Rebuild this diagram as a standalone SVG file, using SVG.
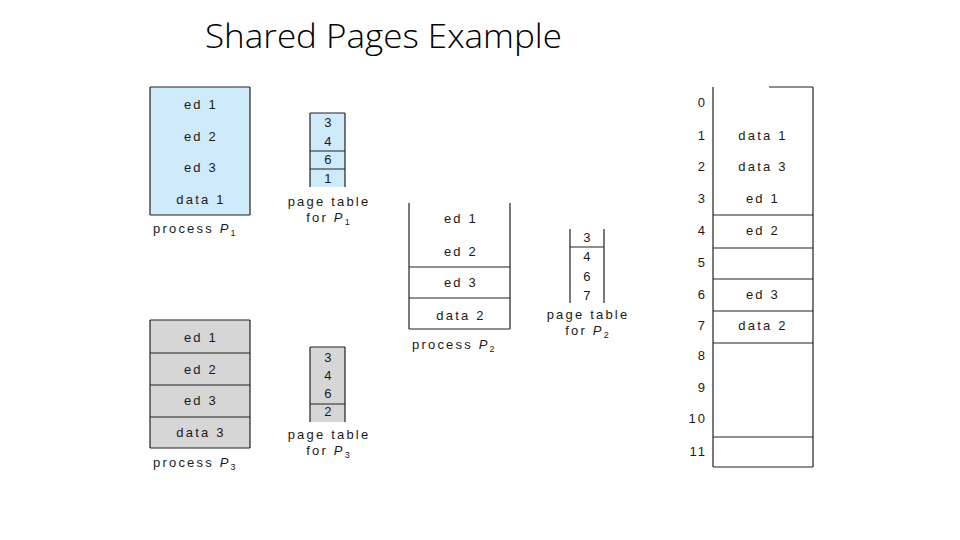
<svg xmlns="http://www.w3.org/2000/svg" width="960" height="540" viewBox="0 0 960 540">
<style>
.t{font-family:"Liberation Sans",Arial,sans-serif;font-size:13px;letter-spacing:2.2px;fill:#1a1a1a;text-anchor:middle}
.l{font-family:"Liberation Sans",Arial,sans-serif;font-size:13px;letter-spacing:2.2px;fill:#1a1a1a}
.n{font-family:"Liberation Sans",Arial,sans-serif;font-size:13px;letter-spacing:2px;fill:#1a1a1a;text-anchor:end}
.ln{stroke:#222;stroke-width:1.2;fill:none}
.blue{fill:#cfeafa}
.gray{fill:#d6d6d6}
.it{font-style:italic}
.sub{font-size:9px}
</style>
<rect width="960" height="540" fill="#fff"/>
<text x="205" y="48" font-family="'Open Sans','Liberation Sans',sans-serif" font-size="33" font-weight="300" fill="#000" textLength="357" lengthAdjust="spacingAndGlyphs">Shared Pages Example</text>

<g id="process-p1">
<rect class="blue" x="150" y="87" width="100" height="128"/>
<path class="ln" d="M150 87V215M250 87V215M150 87H250M150 215H250"/>
<text class="t" x="201" y="109">ed 1</text>
<text class="t" x="201" y="141">ed 2</text>
<text class="t" x="201" y="172">ed 3</text>
<text class="t" x="201" y="204">data 1</text>
<text class="l" x="153" y="233">process <tspan class="it">P</tspan><tspan class="sub" dy="3">1</tspan></text>
</g>

<g id="pagetable-p1">
<rect class="blue" x="310" y="113" width="35" height="74"/>
<path class="ln" d="M310 113V187M345 113V187M310 113H345M310 151H345M310 169H345"/>
<text class="t" x="329" y="127">3</text>
<text class="t" x="329" y="146">4</text>
<text class="t" x="329" y="164">6</text>
<text class="t" x="329" y="183">1</text>
<text class="t" x="329" y="206">page table</text>
<text class="t" x="329" y="222">for <tspan class="it">P</tspan><tspan class="sub" dy="3">1</tspan></text>
</g>

<g id="process-p3">
<rect class="gray" x="150" y="320" width="100" height="128"/>
<path class="ln" d="M150 320V448M250 320V448M150 320H250M150 353H250M150 385H250M150 417H250M150 448H250"/>
<text class="t" x="201" y="342">ed 1</text>
<text class="t" x="201" y="374">ed 2</text>
<text class="t" x="201" y="405">ed 3</text>
<text class="t" x="201" y="437">data 3</text>
<text class="l" x="153" y="467">process <tspan class="it">P</tspan><tspan class="sub" dy="3">3</tspan></text>
</g>

<g id="pagetable-p3">
<rect class="gray" x="310" y="347" width="35" height="75"/>
<path class="ln" d="M310 347V422M345 347V422M310 347H345M310 404H345"/>
<text class="t" x="329" y="362">3</text>
<text class="t" x="329" y="380">4</text>
<text class="t" x="329" y="398">6</text>
<text class="t" x="329" y="416">2</text>
<text class="t" x="329" y="439">page table</text>
<text class="t" x="329" y="455">for <tspan class="it">P</tspan><tspan class="sub" dy="3">3</tspan></text>
</g>

<g id="process-p2">
<path class="ln" d="M409 203V329M510 203V329M409 267H510M409 298H510M409 329H510"/>
<text class="t" x="461" y="223">ed 1</text>
<text class="t" x="461" y="256">ed 2</text>
<text class="t" x="461" y="287">ed 3</text>
<text class="t" x="461" y="320">data 2</text>
<text class="l" x="412" y="349">process <tspan class="it">P</tspan><tspan class="sub" dy="3">2</tspan></text>
</g>

<g id="pagetable-p2">
<path class="ln" d="M570 229V303M604 229V303M570 247H604"/>
<text class="t" x="588" y="242">3</text>
<text class="t" x="588" y="261">4</text>
<text class="t" x="588" y="281">6</text>
<text class="t" x="588" y="300">7</text>
<text class="t" x="588" y="319">page table</text>
<text class="t" x="588" y="335">for <tspan class="it">P</tspan><tspan class="sub" dy="3">2</tspan></text>
</g>

<g id="physical-memory">
<path class="ln" d="M713 87V467M813 87V467M769 87H813M713 215H813M713 248H813M713 279H813M713 311H813M713 343H813M713 437H813M713 467H813"/>
<text class="n" x="707" y="107">0</text>
<text class="n" x="707" y="140">1</text>
<text class="n" x="707" y="171">2</text>
<text class="n" x="707" y="203">3</text>
<text class="n" x="707" y="235">4</text>
<text class="n" x="707" y="267">5</text>
<text class="n" x="707" y="299">6</text>
<text class="n" x="707" y="330">7</text>
<text class="n" x="707" y="360">8</text>
<text class="n" x="707" y="392">9</text>
<text class="n" x="707" y="423">10</text>
<text class="n" x="707" y="456">11</text>
<text class="t" x="763" y="140">data 1</text>
<text class="t" x="763" y="171">data 3</text>
<text class="t" x="763" y="203">ed 1</text>
<text class="t" x="763" y="235">ed 2</text>
<text class="t" x="763" y="299">ed 3</text>
<text class="t" x="763" y="330">data 2</text>
</g>
</svg>
